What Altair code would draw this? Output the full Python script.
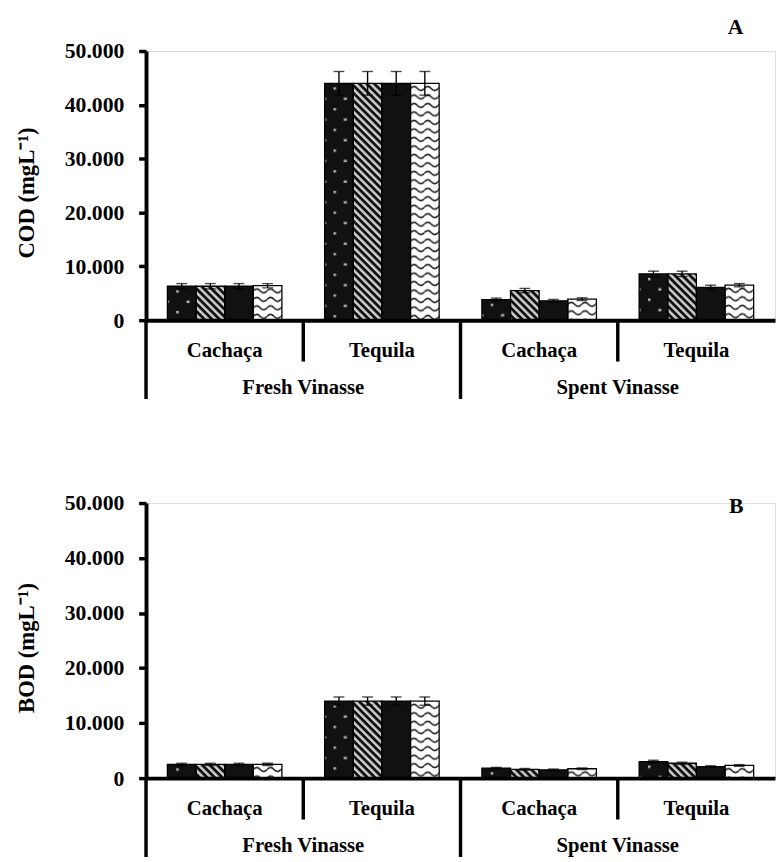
import base64
import altair as alt
import pandas as pd

# ---------------- data ----------------
groups = ["Fresh Vinasse", "Fresh Vinasse", "Spent Vinasse", "Spent Vinasse"]
sources = ["Cachaça", "Tequila", "Cachaça", "Tequila"]
series = ["Series 1", "Series 2", "Series 3", "Series 4"]

cod_series1 = [6300, 44000, 3800, 8600]
cod_series2 = [6300, 44000, 5500, 8600]
cod_series3 = [6300, 44000, 3600, 6100]
cod_series4 = [6400, 44000, 3900, 6500]
cod_err1 = [500, 2200, 300, 500]
cod_err2 = [500, 2200, 400, 500]
cod_err3 = [500, 2200, 250, 400]
cod_err4 = [400, 2200, 250, 300]

bod_series1 = [2500, 14000, 1800, 3000]
bod_series2 = [2500, 14000, 1600, 2700]
bod_series3 = [2500, 14000, 1500, 2100]
bod_series4 = [2500, 14000, 1700, 2300]
bod_err1 = [200, 750, 150, 250]
bod_err2 = [200, 750, 150, 200]
bod_err3 = [200, 750, 150, 150]
bod_err4 = [200, 750, 150, 150]

y_ticks = [0, 10000, 20000, 30000, 40000, 50000]

# ---------------- styles (patterns) ----------------
def svg_uri(body):
    svg = ('<svg xmlns="http://www.w3.org/2000/svg" width="100%" height="100%">'
           '<defs>' + body + '</defs>'
           '<rect width="100%" height="100%" fill="url(#p)"/></svg>')
    return "data:image/svg+xml;base64," + base64.b64encode(svg.encode()).decode()

pat_dots = svg_uri(
    '<pattern id="p" width="21" height="21" patternUnits="userSpaceOnUse">'
    '<rect width="21" height="21" fill="#111"/>'
    '<rect x="9" y="4" width="2.5" height="2.5" fill="#b8b8b8"/>'
    '<rect x="19.5" y="14.5" width="2.5" height="2.5" fill="#b8b8b8"/>'
    '<rect x="-1" y="14.5" width="2.5" height="2.5" fill="#b8b8b8"/>'
    '</pattern>')
pat_stripes = svg_uri(
    '<pattern id="p" width="5.4" height="5.4" patternUnits="userSpaceOnUse" patternTransform="rotate(-45)">'
    '<rect width="5.4" height="5.4" fill="#111"/>'
    '<rect width="2.5" height="5.4" fill="#d0d0d0"/>'
    '</pattern>')
pat_solid = svg_uri(
    '<pattern id="p" width="10" height="10" patternUnits="userSpaceOnUse">'
    '<rect width="10" height="10" fill="#111"/></pattern>')
pat_wave = svg_uri(
    '<pattern id="p" width="14" height="8.6" patternUnits="userSpaceOnUse">'
    '<rect width="14" height="8.6" fill="#fff"/>'
    '<path d="M0,5.3 Q3.5,1.3 7,5.3 T14,5.3" fill="none" stroke="#222" stroke-width="1.6"/>'
    '</pattern>')

styles = pd.DataFrame({"series": series,
                       "url": [pat_dots, pat_stripes, pat_solid, pat_wave]})
fallback_colors = ["#111111", "#707070", "#111111", "#ffffff"]

cat_keys = [f"{g}|{s}" for g, s in zip(groups, sources)]
FONT = "Liberation Serif"

labels_df = pd.DataFrame({"cat": cat_keys, "source": sources, "group": groups})
short_div_df = pd.DataFrame({"cat": [cat_keys[1], cat_keys[3]]})
long_div_df = pd.DataFrame({"cat": [cat_keys[0], cat_keys[2]]})
group_lbl_df = pd.DataFrame({"cat": [cat_keys[1], cat_keys[3]],
                             "group": [groups[0], groups[2]]})


def make_df(vals, errs):
    rows = []
    for s, v, e in zip(series, vals, errs):
        for g, src, vv, ee in zip(groups, sources, v, e):
            rows.append({"cat": f"{g}|{src}", "group": g, "series": s,
                         "value": vv, "err": ee})
    return pd.DataFrame(rows)


def panel(df, ytitle, letter, h, title_dy):
    xscale = alt.Scale(domain=cat_keys, paddingInner=0, paddingOuter=0)
    x_axis = alt.Axis(title=None, orient="bottom", labels=False, ticks=False,
                      domainColor="black", domainWidth=4, grid=False, zindex=2)
    xo = alt.XOffset("series:N", scale=alt.Scale(domain=series, paddingInner=0,
                                                 paddingOuter=0.746))
    yscale = alt.Scale(domain=[0, 50000], nice=False, zero=True)
    y_axis = alt.Axis(
        title=ytitle, values=y_ticks,
        labelExpr="replace(format(datum.value, ','), ',', '.')",
        labelFont=FONT, labelFontWeight="bold", labelFontSize=22, labelColor="black",
        labelPadding=15, tickSize=7.5, tickWidth=3.5, tickColor="black",
        domainColor="black", domainWidth=4, grid=False, titleFont=FONT,
        titleFontWeight="bold", titleFontSize=23, titleColor="black",
        titlePadding=26, titleY=h / 2 + 7, zindex=2)

    def X(**kw):
        return alt.X("cat:N", scale=xscale, axis=x_axis, **kw)

    def Y(field):
        return alt.Y(field, scale=yscale, axis=y_axis, stack=False)

    base = alt.Chart(df)
    fills = base.mark_bar().encode(
        x=X(), xOffset=xo, y=Y("value:Q"),
        color=alt.Color("series:N", scale=alt.Scale(domain=series, range=fallback_colors),
                        legend=None))
    imgs = base.transform_lookup(
        lookup="series", from_=alt.LookupData(styles, "series", ["url"])
    ).mark_image(aspect=False).encode(
        x=X(), xOffset=xo, y=Y("value:Q"), y2=alt.datum(0), url="url:N")
    outline = base.mark_bar(fill="transparent", stroke="black", strokeWidth=1.3).encode(
        x=X(), xOffset=xo, y=Y("value:Q"))
    err = base.transform_calculate(lo="datum.value - datum.err",
                                   hi="datum.value + datum.err")
    rule = err.mark_rule(color="black", strokeWidth=1.4).encode(
        x=X(), xOffset=xo, y=Y("lo:Q"), y2="hi:Q")
    cap_hi = err.mark_tick(color="black", thickness=1.4, size=11, orient="horizontal").encode(
        x=X(), xOffset=xo, y=Y("hi:Q"))
    cap_lo = err.mark_tick(color="black", thickness=1.4, size=11, orient="horizontal").encode(
        x=X(), xOffset=xo, y=Y("lo:Q"))

    cat_text = alt.Chart(labels_df).mark_text(
        font=FONT, fontWeight="bold", fontSize=21, color="black", baseline="middle"
    ).encode(x=X(), y=alt.value(h + 31), text="source:N")
    short_div = alt.Chart(short_div_df).mark_rule(color="black", strokeWidth=3.5).encode(
        x=X(bandPosition=0), y=alt.value(h), y2=alt.value(h + 42))
    long_div = alt.Chart(long_div_df).mark_rule(color="black", strokeWidth=3.5).encode(
        x=X(bandPosition=0), y=alt.value(h), y2=alt.value(h + 80))
    grp_text = alt.Chart(group_lbl_df).mark_text(
        font=FONT, fontWeight="bold", fontSize=21, color="black", baseline="middle"
    ).encode(x=X(bandPosition=0), y=alt.value(h + 69), text="group:N")

    return alt.layer(fills, imgs, outline, rule, cap_hi, cap_lo,
                     cat_text, short_div, long_div, grp_text).properties(
        width=638, height=h,
        title=alt.TitleParams(text=letter, anchor="end", font=FONT, fontWeight="bold",
                              fontSize=22, color="black", dx=-32, dy=title_dy, offset=1.5))


cod_df = make_df([cod_series1, cod_series2, cod_series3, cod_series4],
                 [cod_err1, cod_err2, cod_err3, cod_err4])
bod_df = make_df([bod_series1, bod_series2, bod_series3, bod_series4],
                 [bod_err1, bod_err2, bod_err3, bod_err4])

top = panel(cod_df, "COD (mgL⁻¹)", "A", 273, 0)
bottom = panel(bod_df, "BOD (mgL⁻¹)", "B", 279, 27.5)

chart = alt.vconcat(top, bottom, spacing=90.5).properties(
    padding={"left": 7, "top": 1.5, "right": 0, "bottom": 0}
).configure_view(strokeWidth=0).configure(background="white")

chart.save("out.html", embed_options={"renderer": "svg", "actions": False})
